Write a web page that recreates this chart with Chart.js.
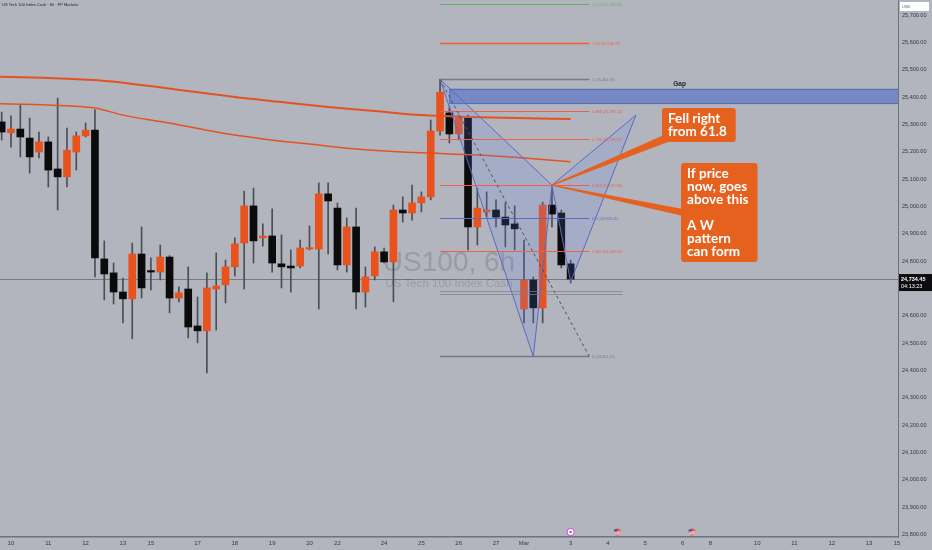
<!DOCTYPE html>
<html>
<head>
<meta charset="utf-8">
<script src="https://cdn.jsdelivr.net/npm/chart.js@4.4.1/dist/chart.umd.min.js"></script>
<style>
  html, body { margin: 0; padding: 0; background: #b2b5be; }
  canvas { display: block; }
</style>
</head>
<body>
<canvas id="chart" width="932" height="550"></canvas>
<script>
// 6h candles, index 0 = Tue 10 Feb 00:00 (weekend gaps removed)
const firstIdx = -1;
const opens  = [25309,25269,25283,25250,25199,25236,25137,25108,25199,25258,25279,24808,24757,24687,24662,24826,24764,24760,24815,24665,24698,24563,24545,24698,24713,24779,24866,25002,24885,24892,24790,24782,24782,24844,24844,25046,24994,24786,24925,24687,24746,24834,24797,24987,24976,25013,25035,25276,25342,25265,25323,24925,24980,24987,24961,24936,24625,24731,24629,25005,24976,24790];
const highs  = [25345,25331,25371,25323,25272,25254,25396,25287,25272,25305,25353,24874,24793,24738,24866,24925,24812,24859,24820,24706,24779,24669,24757,24830,24804,24885,25056,25067,24936,24991,24896,24841,24877,24929,25086,25086,25013,24958,24994,24779,24852,24848,25005,25035,25078,25053,25316,25465,25364,25334,25334,25067,25053,25024,25013,25002,24877,24742,25016,25071,24987,24804];
const lows   = [25243,25217,25181,25122,25177,25071,24987,25071,25133,25254,24742,24658,24643,24574,24516,24665,24695,24731,24611,24651,24519,24501,24391,24548,24647,24746,24698,24793,24855,24760,24702,24687,24775,24841,24625,24826,24768,24760,24625,24632,24731,24793,24651,24943,24950,24980,25024,25261,25232,25243,24841,24859,24961,24925,24852,24841,24574,24574,24574,24925,24775,24720];
const closes = [25272,25283,25254,25181,25236,25133,25108,25206,25258,25279,24812,24753,24687,24662,24826,24702,24760,24815,24665,24684,24559,24545,24702,24709,24779,24863,25002,24874,24892,24793,24779,24775,24848,24848,25046,25020,24786,24925,24687,24742,24834,24797,24987,24976,25013,25035,25276,25418,25265,25323,24925,24994,24987,24961,24932,24918,24731,24629,25005,24972,24786,24734.45];
const lastPrice = 24734.45;

// moving averages (read at a few candle positions)
const maSlowIdx = [-2, 4, 9, 14, 19, 24, 29, 34, 39, 44, 49, 54, 60];
const maSlow    = [25475, 25470, 25462, 25444, 25422, 25400, 25382, 25364, 25349, 25334, 25327, 25323, 25320];
const maFastIdx = [-2, 4, 9, 12, 17, 22, 27, 32, 37, 42, 45, 50, 55, 60];
const maFast    = [25376, 25371, 25360, 25334, 25305, 25272, 25247, 25228, 25210, 25199, 25195, 25188, 25177, 25163];

// fib retracement drawn from candle 46 to 62
const fibLevels = [1.272, 1.13, 1, 0.886, 0.786, 0.618, 0.5, 0.382, 0];
const fibPrices = [25740.62, 25596.71, 25464.95, 25349.41, 25248.07, 25077.80, 24958.21, 24838.62, 24451.47];
const fibColors = ['#62b266', '#f0602a', '#7a7d87', '#ef5f4e', '#ef5f4e', '#ef5f4e', '#5c6bc0', '#ef5f4e', '#777a84'];
const fibWidths = [1, 1.5, 1.5, 1, 1, 1, 1, 1, 1.5];
const fibFrom = 46, fibTo = 62;

// pattern points (candle index, price) and its two triangles
const patIdx   = [46, 56, 58, 67, 60];
const patPrice = [25465, 24451, 25078, 25334, 24724];
const patTris  = [[0, 1, 2], [2, 3, 4]];

// gap zone
const gapFrom = 47, gapTop = 25430, gapBottom = 25378;
const gapLabelAt = [71, 25448];

// callouts: top-left of box (index, price), and the point it aims at
const callouts = [
  { lines: ['Fell right', 'from 61.8'], at: [69.8, 25360], tip: [58, 25078], base: 'corner' },
  { lines: ['If price', 'now, goes', 'above this', '', 'A W', 'pattern', 'can form'], at: [71.84, 25159], tip: [58, 25078], base: 'side' }
];

// axis ticks
const dayTickIdx    = [0, 4, 8, 12, 15, 20, 24, 28, 32, 35, 40, 44, 48, 52, 55, 60, 64, 68, 72, 75, 80, 84, 88, 92, 95];
const dayTickLabels = ['10','11','12','13','15','17','18','19','20','22','24','25','26','27','Mar','3','4','5','6','8','10','11','12','13','15'];
const priceTicks = [23800,23900,24000,24100,24200,24300,24400,24500,24600,24700,24800,24900,25000,25100,25200,25300,25400,25500,25600,25700];

// calendar events along the bottom
const eventIdx  = [60, 65, 73];
const eventKind = ['earn', 'us', 'us'];

const BG = '#b2b5be', UP = '#ea521d', DOWN = '#0b0b0c', WICK = '#4b4e56', CALLOUT = '#e6601e';

const xs = opens.map((_, i) => firstIdx + i);
const bodies = xs.map((x, i) => ({ x: x, y: [opens[i], closes[i]] }));
const wicks  = xs.map((x, i) => ({ x: x, y: [lows[i], highs[i]] }));
const bodyColors = opens.map((o, i) => closes[i] >= o ? UP : DOWN);

const fmt = v => v.toLocaleString('en-US', { minimumFractionDigits: 2, maximumFractionDigits: 2 });

const background = {
  id: 'background',
  beforeDraw(chart) {
    const ctx = chart.ctx;
    ctx.save();
    ctx.fillStyle = BG;
    ctx.fillRect(0, 0, chart.width, chart.height);
    ctx.restore();
  }
};

const watermark = {
  id: 'watermark',
  beforeDatasetsDraw(chart) {
    const ctx = chart.ctx, a = chart.chartArea;
    const cx = (a.left + a.right) / 2, cy = (a.top + a.bottom) / 2;
    ctx.save();
    ctx.fillStyle = 'rgba(100,104,115,0.33)';
    ctx.textAlign = 'center';
    ctx.textBaseline = 'alphabetic';
    ctx.font = '28px "Liberation Sans"';
    ctx.fillText('US100, 6h', cx, cy + 2);
    ctx.font = '11.5px "Liberation Sans"';
    ctx.fillText('US Tech 100 Index Cash', cx, cy + 18);
    // current price line
    const y = chart.scales.y.getPixelForValue(lastPrice);
    ctx.strokeStyle = 'rgba(70,72,80,0.55)';
    ctx.lineWidth = 1;
    ctx.beginPath();
    ctx.moveTo(a.left, Math.round(y) + 0.5);
    ctx.lineTo(a.right, Math.round(y) + 0.5);
    ctx.stroke();
    ctx.restore();
  }
};

const drawings = {
  id: 'drawings',
  afterDatasetsDraw(chart) {
    const ctx = chart.ctx, a = chart.chartArea;
    const X = v => chart.scales.x.getPixelForValue(v);
    const Y = v => chart.scales.y.getPixelForValue(v);
    ctx.save();
    ctx.beginPath();
    ctx.rect(a.left, a.top, a.right - a.left, a.bottom - a.top);
    ctx.clip();

    // gap zone
    const gx = X(gapFrom), gt = Y(gapTop), gb = Y(gapBottom);
    ctx.fillStyle = 'rgba(70,100,200,0.55)';
    ctx.fillRect(gx, gt, a.right - gx, gb - gt);
    ctx.strokeStyle = '#5468b0';
    ctx.lineWidth = 1;
    ctx.strokeRect(gx + 0.5, gt + 0.5, a.right - gx, gb - gt);
    ctx.fillStyle = '#202226';
    ctx.font = 'bold 6.5px "Liberation Sans"';
    ctx.textAlign = 'left';
    ctx.textBaseline = 'middle';
    ctx.fillText('Gap', X(gapLabelAt[0]), Y(gapLabelAt[1]));

    // pattern triangles
    patTris.forEach(t => {
      ctx.beginPath();
      t.forEach((p, k) => {
        const px = X(patIdx[p]), py = Y(patPrice[p]);
        if (k === 0) ctx.moveTo(px, py); else ctx.lineTo(px, py);
      });
      ctx.closePath();
      ctx.fillStyle = 'rgba(100,130,240,0.17)';
      ctx.fill();
      ctx.strokeStyle = '#5a6bc2';
      ctx.lineWidth = 1;
      ctx.stroke();
    });

    // faint lines under the last candles
    ctx.strokeStyle = 'rgba(125,128,138,0.7)';
    ctx.lineWidth = 1;
    [24690, 24681].forEach(p => {
      ctx.beginPath();
      ctx.moveTo(X(46), Math.round(Y(p)) + 0.5);
      ctx.lineTo(X(65.6), Math.round(Y(p)) + 0.5);
      ctx.stroke();
    });

    // fib levels
    const fx0 = X(fibFrom), fx1 = X(fibTo);
    fibPrices.forEach((p, i) => {
      const y = Math.round(Y(p)) + 0.5;
      ctx.strokeStyle = fibColors[i];
      ctx.lineWidth = fibWidths[i];
      ctx.beginPath();
      ctx.moveTo(fx0, y);
      ctx.lineTo(fx1, y);
      ctx.stroke();
      ctx.fillStyle = fibColors[i];
      ctx.font = '3.8px "Liberation Sans"';
      ctx.textAlign = 'left';
      ctx.textBaseline = 'middle';
      ctx.fillText(fibLevels[i] + ' (' + fmt(p) + ')', fx1 + 3, y);
    });
    // diagonal trend line of the fib
    ctx.strokeStyle = '#4e5158';
    ctx.lineWidth = 1;
    ctx.setLineDash([3, 3]);
    ctx.beginPath();
    ctx.moveTo(fx0, Y(fibPrices[2]));
    ctx.lineTo(fx1, Y(fibPrices[8]));
    ctx.stroke();
    ctx.setLineDash([]);

    // callouts
    ctx.font = 'bold 13.5px Lato';
    callouts.forEach(c => {
      const bx = X(c.at[0]), by = Y(c.at[1]);
      const w = Math.max(...c.lines.map(s => ctx.measureText(s).width)) + 15;
      const h = c.lines.length * 13 + 8;
      const tx = X(c.tip[0]), ty = Y(c.tip[1]);
      let b1, b2;
      if (c.base === 'corner') { b1 = [bx, by + h - 7]; b2 = [bx + 4, by + h]; }
      else { b1 = [bx, by + 46]; b2 = [bx, by + 53]; }
      ctx.fillStyle = CALLOUT;
      ctx.beginPath();
      ctx.moveTo(tx, ty - 0.6);
      ctx.lineTo(b1[0] + 2, b1[1]);
      ctx.lineTo(b2[0] + 2, b2[1]);
      ctx.lineTo(tx, ty + 0.6);
      ctx.closePath();
      ctx.fill();
      ctx.beginPath();
      ctx.roundRect(bx, by, w, h, 3);
      ctx.fill();
      ctx.fillStyle = '#ffffff';
      ctx.textAlign = 'left';
      ctx.textBaseline = 'alphabetic';
      c.lines.forEach((s, k) => ctx.fillText(s, bx + 6, by + 15 + k * 13));
    });
    ctx.restore();
  }
};

const chrome = {
  id: 'chrome',
  afterDraw(chart) {
    const ctx = chart.ctx, a = chart.chartArea;
    const X = v => chart.scales.x.getPixelForValue(v);
    ctx.save();
    // header
    ctx.fillStyle = '#1e2024';
    ctx.font = '4px "Liberation Sans"';
    ctx.textAlign = 'left';
    ctx.textBaseline = 'middle';
    ctx.fillText('US Tech 100 Index Cash \u00b7 6h \u00b7 FP Markets', 2, 5);
    // currency box
    ctx.fillStyle = '#ffffff';
    ctx.fillRect(a.right + 2, 2, 29, 9);
    ctx.fillStyle = '#55585f';
    ctx.fillText('USD', a.right + 4, 6.5);
    // last price box
    const py = chart.scales.y.getPixelForValue(lastPrice);
    ctx.fillStyle = '#0c0c0e';
    ctx.fillRect(a.right + 1, py - 5, chart.width - a.right - 1, 17);
    ctx.fillStyle = '#ffffff';
    ctx.font = 'bold 5.5px "Liberation Sans"';
    ctx.fillText(fmt(lastPrice), a.right + 3, py);
    ctx.font = '5.5px "Liberation Sans"';
    ctx.fillText('04:13:23', a.right + 3, py + 7);
    // event markers
    eventIdx.forEach((ix, i) => {
      const x = X(ix), y = a.bottom - 5;
      ctx.beginPath();
      ctx.arc(x, y, 3.6, 0, Math.PI * 2);
      if (eventKind[i] === 'earn') {
        ctx.fillStyle = '#ffffff';
        ctx.fill();
        ctx.strokeStyle = '#c04bd8';
        ctx.lineWidth = 1;
        ctx.stroke();
        ctx.beginPath();
        ctx.arc(x, y, 1.3, 0, Math.PI * 2);
        ctx.fillStyle = '#c04bd8';
        ctx.fill();
      } else {
        ctx.fillStyle = '#e0524a';
        ctx.fill();
        ctx.fillStyle = '#f4f4f4';
        ctx.fillRect(x - 3.4, y - 0.6, 6.8, 1.1);
        ctx.fillRect(x - 3.2, y + 1.4, 6.4, 1.0);
        ctx.fillStyle = '#3f5bb0';
        ctx.fillRect(x - 3.2, y - 2.6, 3.2, 2.2);
      }
    });
    ctx.restore();
  }
};

new Chart(document.getElementById('chart'), {
  type: 'bar',
  data: {
    datasets: [
      { type: 'line', data: maSlowIdx.map((x, i) => ({ x: x, y: maSlow[i] })), borderColor: '#e4521f', borderWidth: 2, pointRadius: 0, tension: 0.4, cubicInterpolationMode: 'monotone' },
      { type: 'line', data: maFastIdx.map((x, i) => ({ x: x, y: maFast[i] })), borderColor: '#e4521f', borderWidth: 1.5, pointRadius: 0, tension: 0.4, cubicInterpolationMode: 'monotone' },
      { data: bodies, backgroundColor: bodyColors, barThickness: 7, grouped: false, minBarLength: 1.5, borderWidth: 0 },
      { data: wicks, backgroundColor: WICK, barThickness: 1, grouped: false, borderWidth: 0 }
    ]
  },
  options: {
    responsive: false,
    animation: false,
    events: [],
    layout: { padding: 0 },
    plugins: { legend: { display: false }, tooltip: { enabled: false } },
    scales: {
      x: {
        type: 'linear',
        offset: false,
        min: -1.18,
        max: 95.1,
        grid: { display: false, drawTicks: false },
        border: { display: true, color: '#6f727b', width: 1.5 },
        afterBuildTicks: s => { s.ticks = dayTickIdx.map(v => ({ value: v })); },
        afterFit: s => { s.height = 13; s.paddingLeft = 0; s.paddingRight = 0; },
        ticks: {
          autoSkip: false,
          maxRotation: 0,
          padding: 3,
          color: '#36383e',
          font: { family: 'Liberation Sans', size: 6 },
          callback: (v, i) => dayTickLabels[i]
        }
      },
      y: {
        position: 'right',
        min: 23791,
        max: 25755,
        grid: { display: false, drawTicks: false },
        border: { display: true, color: '#6f727b', width: 1 },
        afterBuildTicks: s => { s.ticks = priceTicks.map(v => ({ value: v })); },
        afterFit: s => { s.width = 34; s.paddingTop = 0; s.paddingBottom = 0; },
        ticks: {
          padding: 4,
          color: '#36383e',
          font: { family: 'Liberation Sans', size: 5.5 },
          callback: v => fmt(v)
        }
      }
    }
  },
  plugins: [background, watermark, drawings, chrome]
});
</script>
</body>
</html>
